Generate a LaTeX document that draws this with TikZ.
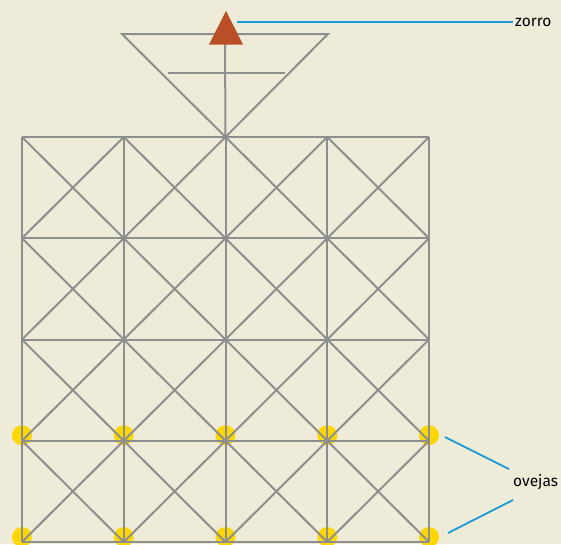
\documentclass[tikz,border=0pt]{standalone}
\usepackage{fontspec}
\setmainfont{Fira Sans}
\definecolor{bg}{HTML}{EEEBD9}
\definecolor{grid}{HTML}{8E8E8E}
\definecolor{fox}{HTML}{B94E27}
\definecolor{sheep}{HTML}{FDD800}
\definecolor{lead}{HTML}{1A9AD6}
\begin{document}
\begin{tikzpicture}[x=1pt,y=-1pt,
  gridline/.style={draw=grid,line width=2pt},
  leader/.style={draw=lead,line width=1.8pt},
  lbl/.style={font=\fontsize{15.5}{17}\selectfont,inner sep=0pt,anchor=west},
  sheepdot/.style={fill=sheep}]
\useasboundingbox[fill=bg] (0,0) rectangle (561,544);
% grid coordinates
\foreach \i/\x in {0/22,1/123.75,2/225.5,3/327.25,4/429}{
  \foreach \j/\y in {0/137,1/238.25,2/339.5,3/440.75,4/542}{
    \coordinate (g-\i-\j) at (\x,\y);
  }
}
% sheep
\foreach \i in {0,...,4}{
  \fill[sheepdot] ([yshift=5.5pt]g-\i-3) circle (10);
  \fill[sheepdot] ([yshift=5pt]g-\i-4) circle (10);
}
% grid lines
\foreach \i in {0,...,4}{
  \draw[gridline] (g-\i-0) -- (g-\i-4);
  \draw[gridline] (g-0-\i) -- (g-4-\i);
}
\foreach \i/\ii in {0/1,1/2,2/3,3/4}{
  \foreach \j/\jj in {0/1,1/2,2/3,3/4}{
    \draw[gridline] (g-\i-\j) -- (g-\ii-\jj);
    \draw[gridline] (g-\ii-\j) -- (g-\i-\jj);
  }
}
% fox's den (inverted triangle)
\coordinate (tl) at (122,34);
\coordinate (tr) at (328,34);
\coordinate (ml) at (168,73);
\coordinate (mr) at (285,73);
\coordinate (top) at (225,40);
\draw[gridline,line join=miter] (tl) -- (tr) -- (g-2-0) -- cycle;
\draw[gridline] (ml) -- (mr);
\draw[gridline] (top) -- (g-2-0);
% fox
\coordinate (fa) at (226,11);
\coordinate (fl) at (209,44.5);
\coordinate (fr) at (243,44.5);
\fill[fox] (fa) -- (fr) -- (fl) -- cycle;
\coordinate (foxend) at (237,22);
% labels
\node[lbl] (zorro) at (515,22) {zorro};
\node[lbl] (ovejas) at (513,482) {ovejas};
\coordinate (s1) at (445,437);
\coordinate (s2) at (448,533);
\coordinate (o1) at ([xshift=-4pt,yshift=13pt]ovejas.west);
\coordinate (o2) at ([yshift=-18pt]ovejas.west);
\draw[leader] (foxend) -- ([xshift=-2pt]zorro.west);
\draw[leader] (s1) -- (o1);
\draw[leader] (s2) -- (o2);
\end{tikzpicture}
\end{document}
